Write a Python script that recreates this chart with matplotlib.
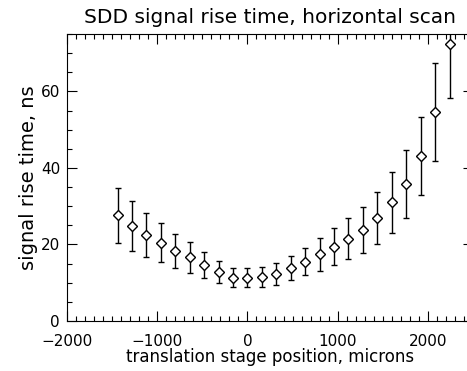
import matplotlib
matplotlib.use("Agg")
from matplotlib import pyplot as plt
from matplotlib.ticker import MultipleLocator

# stage positions (microns) and measured rise times (ns)
position = [-1440, -1280, -1120, -960, -800, -640, -480, -320, -160, 0,
            160, 320, 480, 640, 800, 960, 1120, 1280, 1440, 1600,
            1760, 1920, 2080, 2240]
rise_time = [27.6, 24.8, 22.5, 20.5, 18.3, 16.6, 14.7, 12.9, 11.3, 11.3,
             11.5, 12.3, 13.9, 15.5, 17.4, 19.4, 21.5, 23.8, 27.0, 31.0,
             35.8, 43.1, 54.5, 72.4]
rise_err = [7.1, 6.5, 5.7, 5.1, 4.5, 4.1, 3.4, 2.9, 2.5, 2.5,
            2.6, 2.8, 3.2, 3.6, 4.3, 4.8, 5.4, 5.9, 6.8, 7.9,
            9.0, 10.3, 12.8, 14.0]

plt.rcParams['font.family'] = ['DejaVu Sans']
fig = plt.figure(figsize=(4.67, 3.71), dpi=100)
# right edge of the box lies just past the picture, as in the original
ax = fig.add_axes([67 / 467, 50 / 371, 406 / 467, 287 / 371])

ax.errorbar(position, rise_time, yerr=rise_err, fmt='D', color='black',
            mfc='white', mec='black', ms=5.5, mew=1.0, elinewidth=1.0,
            capsize=2.2, capthick=1.0)

ax.set_xlim(-2000, 2500)
ax.set_ylim(0, 75)
ax.xaxis.set_major_locator(MultipleLocator(1000))
ax.xaxis.set_minor_locator(MultipleLocator(100))
ax.yaxis.set_major_locator(MultipleLocator(20))
ax.yaxis.set_minor_locator(MultipleLocator(5))
ax.tick_params(which='both', direction='in', top=True, right=True,
               labelsize=11, width=0.8)
ax.tick_params(which='major', length=7)
ax.tick_params(which='minor', length=3.5)
ax.tick_params(axis='x', pad=9)
ax.tick_params(axis='y', pad=5)
for s in ax.spines.values():
    s.set_linewidth(0.8)
ax.spines['right'].set_visible(False)

ax.set_title("SDD signal rise time, horizontal scan", fontsize=14.5, pad=8)
ax.set_xlabel("translation stage position, microns", fontsize=12, labelpad=0)
ax.set_ylabel("signal rise time, ns", fontsize=14, labelpad=2)

plt.savefig("out.png", dpi=100)
